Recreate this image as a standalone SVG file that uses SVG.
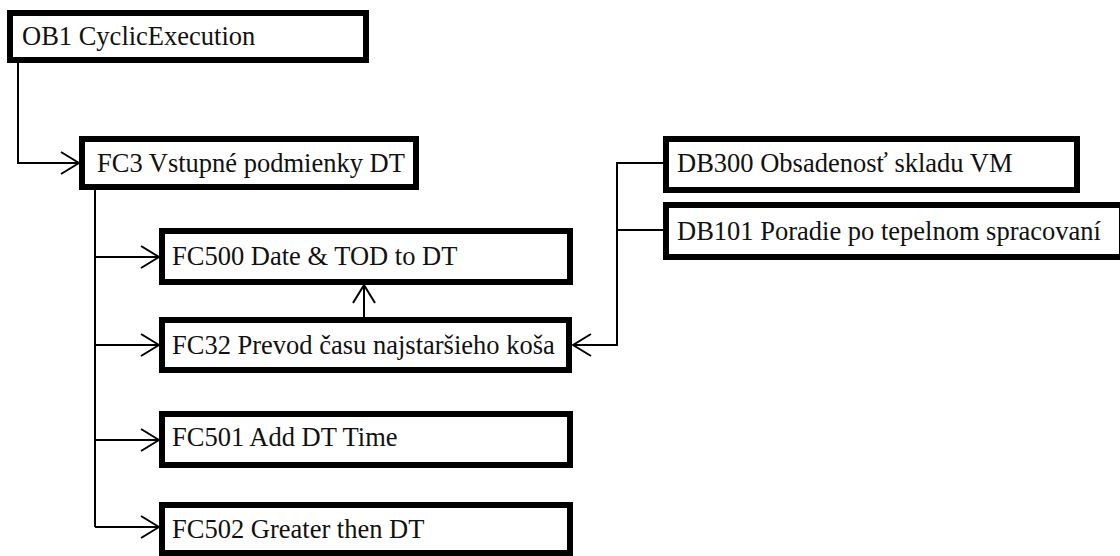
<svg xmlns="http://www.w3.org/2000/svg" width="1120" height="556" viewBox="0 0 1120 556">
<defs>
<style>
.box{fill:#fff;stroke:#000;stroke-width:6}
.con{fill:none;stroke:#000;stroke-width:2}
</style>
<marker id="arr" viewBox="0 0 20 24" refX="19" refY="12" markerWidth="20" markerHeight="24" markerUnits="userSpaceOnUse" orient="auto">
<path d="M1,1 L19,12 L1,23" fill="none" stroke="#000" stroke-width="2"/>
</marker>
</defs>
<rect width="1120" height="556" fill="#fff"/>
<g id="connectors">
<path class="con" d="M18,63 V163 H79" marker-end="url(#arr)"/>
<path class="con" d="M95,190 V527"/>
<path class="con" d="M95,257 H159" marker-end="url(#arr)"/>
<path class="con" d="M95,345 H159" marker-end="url(#arr)"/>
<path class="con" d="M95,440 H159" marker-end="url(#arr)"/>
<path class="con" d="M95,527 H159" marker-end="url(#arr)"/>
<path class="con" d="M364,317 V285" marker-end="url(#arr)"/>
<path class="con" d="M663,163 H617 V345 H573" marker-end="url(#arr)"/>
<path class="con" d="M663,230 H617"/>
</g>
<g font-family="'Liberation Serif', 'Times New Roman', 'DejaVu Serif', serif" font-size="26.5" fill="#111">
<g id="OB1"><rect class="box" x="10" y="13" width="356" height="47"/><text x="22" y="45">OB1 CyclicExecution</text></g>
<g id="FC3"><rect class="box" x="82" y="139" width="334" height="48"/><text x="97" y="172">FC3 Vstupné podmienky DT</text></g>
<g id="FC500"><rect class="box" x="162" y="231" width="408" height="51"/><text x="172" y="265">FC500 Date &amp; TOD to DT</text></g>
<g id="FC32"><rect class="box" x="162" y="320" width="407" height="50"/><text x="172" y="354">FC32 Prevod času najstaršieho koša</text></g>
<g id="FC501"><rect class="box" x="162" y="414" width="408" height="51"/><text x="172" y="446">FC501 Add DT Time</text></g>
<g id="FC502"><rect class="box" x="162" y="505" width="408" height="48"/><text x="172" y="538">FC502 Greater then DT</text></g>
<g id="DB300"><rect class="box" x="666" y="139" width="411" height="51"/><text x="677" y="172">DB300 Obsadenosť skladu VM</text></g>
<g id="DB101"><rect class="box" x="666" y="205" width="456" height="52"/><text x="677" y="240">DB101 Poradie po tepelnom spracovaní</text></g>
</g>
</svg>
